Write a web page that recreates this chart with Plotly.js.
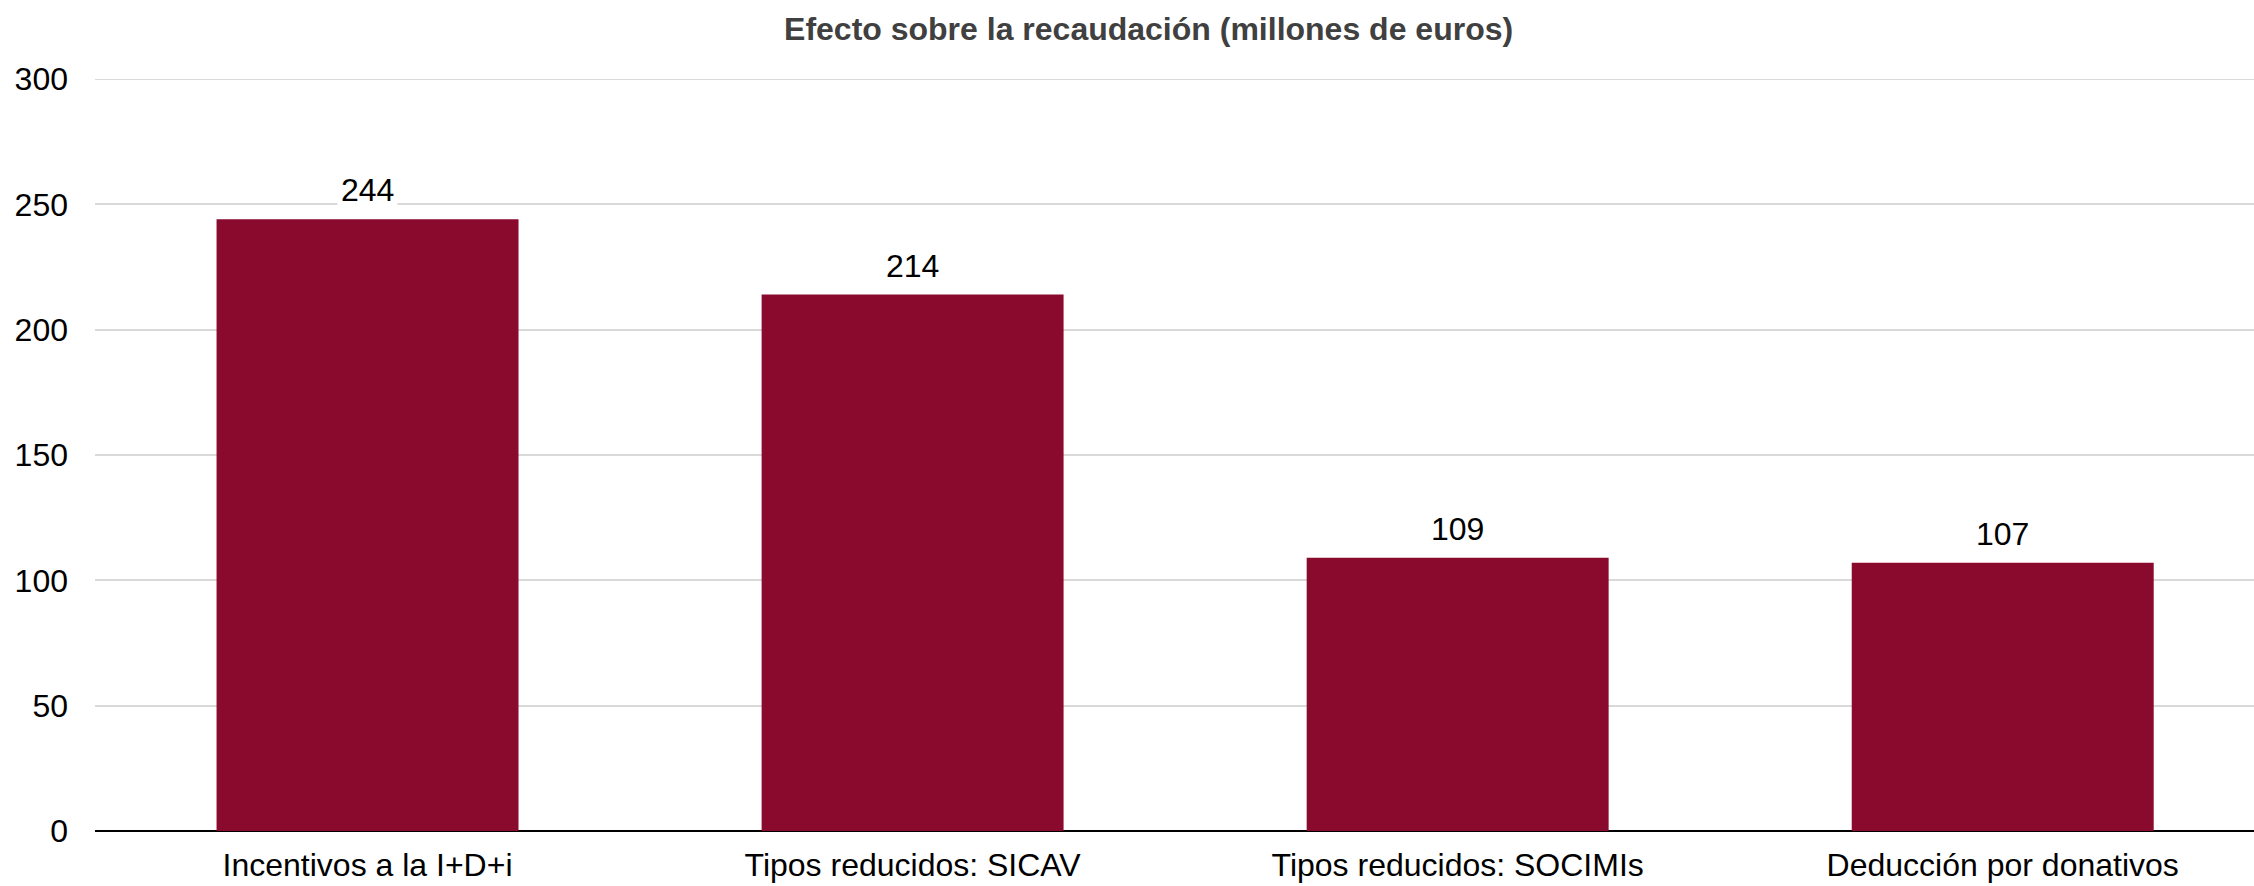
<!DOCTYPE html>
<html>
<head>
<meta charset="utf-8">
<script src="https://cdn.plot.ly/plotly-3.0.1.min.js"></script>
<style>html,body{margin:0;padding:0;background:#fff;}#chart{width:2254px;height:886px;}</style>
</head>
<body>
<div id="chart"></div>
<script>
const categories = ["Incentivos a la I+D+i", "Tipos reducidos: SICAV", "Tipos reducidos: SOCIMIs", "Deducción por donativos"];
const values = [244, 214, 109, 107];
const yTicks = [0, 50, 100, 150, 200, 250, 300];
const titleText = "Efecto sobre la recaudación (millones de euros)";

const FONT = "Liberation Sans, Arial, sans-serif";

const trace = {
  type: "bar",
  x: categories,
  y: values,
  marker: { color: "#8a0a2e" },
  hoverinfo: "x+y"
};

const annotations = categories.map((c, i) => ({
  x: c, y: values[i], xref: "x", yref: "y",
  text: String(values[i]),
  showarrow: false,
  yanchor: "middle",
  yshift: 29,
  bgcolor: "#ffffff",
  borderpad: 3,
  font: { family: FONT, size: 32, color: "#000000" }
}));

const yMax = Math.max(...yTicks);

const layout = {
  width: 2254, height: 886,
  margin: { l: 95, r: 0, t: 79, b: 55 },
  paper_bgcolor: "#ffffff",
  plot_bgcolor: "#ffffff",
  showlegend: false,
  bargap: 0.446,
  title: {
    text: titleText,
    font: { family: FONT, size: 32, color: "#404040", weight: "bold" },
    x: 0.488, xref: "paper", xanchor: "center",
    y: 1 - 29 / 886, yref: "container", yanchor: "middle"
  },
  xaxis: {
    type: "category",
    range: [-0.5, 3.461],
    showgrid: false,
    showline: false,
    ticks: "",
    ticklabelstandoff: 12,
    tickfont: { family: FONT, size: 32, color: "#000000" },
    fixedrange: true
  },
  yaxis: {
    range: [0, yMax],
    tickvals: yTicks,
    ticktext: yTicks.map(String),
    showgrid: true,
    gridcolor: "#d9d9d9",
    gridwidth: 2,
    zeroline: true,
    zerolinecolor: "#000000",
    zerolinewidth: 2,
    showline: false,
    ticks: "",
    ticklabelstandoff: 26,
    tickfont: { family: FONT, size: 32, color: "#000000" },
    fixedrange: true
  },
  shapes: [{
    type: "line", xref: "paper", yref: "y",
    x0: 0, x1: 1, y0: yMax, y1: yMax,
    line: { color: "#d9d9d9", width: 2 },
    layer: "below"
  }],
  annotations: annotations
};

Plotly.newPlot("chart", [trace], layout, { displayModeBar: false });
</script>
</body>
</html>
